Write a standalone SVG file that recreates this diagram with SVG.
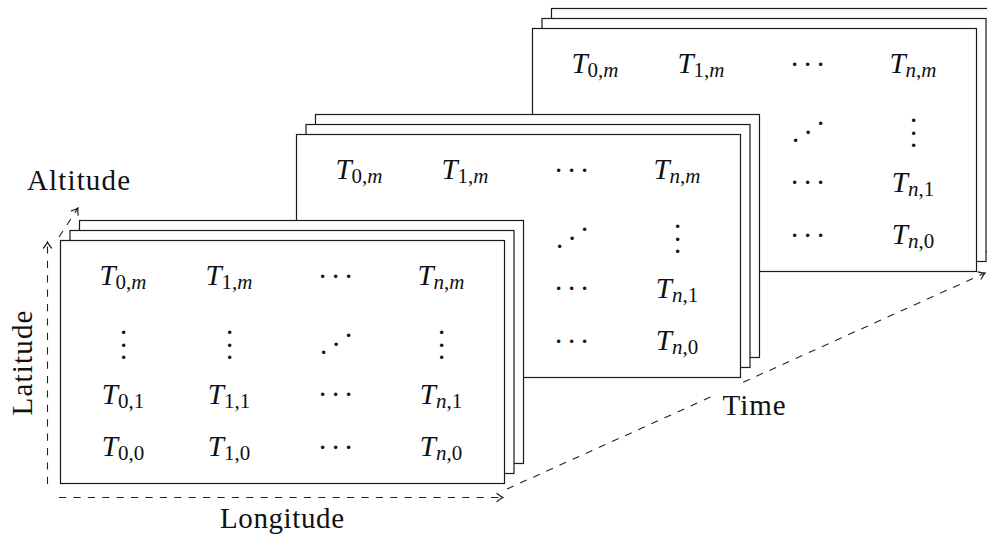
<svg xmlns="http://www.w3.org/2000/svg" width="987" height="537" viewBox="0 0 987 537">
  <style>
    text { font-family: 'Liberation Serif', serif; }
    .frame { fill: #ffffff; stroke: #1a1a1a; stroke-width: 1.2; }
    .m { font-size: 29px; fill: #111; text-anchor: middle; }
    .i { font-style: italic; }
    .s { font-size: 21px; }
    .d { font-size: 29px; fill: #111; text-anchor: middle; }
    .axis { fill: none; stroke: #222; stroke-width: 1.1; stroke-dasharray: 7.2 7.2; }
    .lbl { font-size: 29px; fill: #111; text-anchor: middle; }
  </style>
  <defs>
    <marker id="tip" markerUnits="userSpaceOnUse" markerWidth="12" markerHeight="12" viewBox="-7 -6 8 12" refX="0" refY="0" orient="auto">
      <path d="M -6 -4 Q -2.5 -1 0 0 Q -2.5 1 -6 4" fill="none" stroke="#222" stroke-width="1.2" stroke-linecap="round"/>
    </marker>
    <!-- three stacked sheets of one time step -->
    <g id="sheets">
      <rect class="frame" x="19" y="-20" width="444" height="243"/>
      <rect class="frame" x="9.5" y="-10" width="444" height="243"/>
      <rect class="frame" x="0" y="0" width="444" height="243"/>
    </g>
  </defs>

  <!-- last time step -->
  <g id="step-last" transform="translate(532.5,28.5)">
    <use href="#sheets"/>
    <text class="m" x="62.5" y="44"><tspan class="i">T</tspan><tspan class="s" dy="4">0,</tspan><tspan class="s i">m</tspan></text>
    <text class="m" x="168.5" y="44"><tspan class="i">T</tspan><tspan class="s" dy="4">1,</tspan><tspan class="s i">m</tspan></text>
    <text class="d" x="262 275 288" y="37.5">...</text>
    <text class="m" x="380.5" y="44"><tspan class="i">T</tspan><tspan class="s i" dy="4">n</tspan><tspan class="s">,</tspan><tspan class="s i">m</tspan></text>
    <text class="d" x="263 275.5 288" y="113.5 105 96.5">...</text>
    <text class="d" x="381 381 381" y="93.5 106 118.5">...</text>
    <text class="d" x="262 275 288" y="155.5">...</text>
    <text class="m" x="380.5" y="163"><tspan class="i">T</tspan><tspan class="s i" dy="4">n</tspan><tspan class="s">,1</tspan></text>
    <text class="d" x="262 275 288" y="208.5">...</text>
    <text class="m" x="380.5" y="215"><tspan class="i">T</tspan><tspan class="s i" dy="4">n</tspan><tspan class="s">,0</tspan></text>
  </g>

  <!-- middle time step -->
  <g id="step-mid" transform="translate(296.5,134.5)">
    <use href="#sheets"/>
    <text class="m" x="62.5" y="44"><tspan class="i">T</tspan><tspan class="s" dy="4">0,</tspan><tspan class="s i">m</tspan></text>
    <text class="m" x="168.5" y="44"><tspan class="i">T</tspan><tspan class="s" dy="4">1,</tspan><tspan class="s i">m</tspan></text>
    <text class="d" x="262 275 288" y="37.5">...</text>
    <text class="m" x="380.5" y="44"><tspan class="i">T</tspan><tspan class="s i" dy="4">n</tspan><tspan class="s">,</tspan><tspan class="s i">m</tspan></text>
    <text class="d" x="263 275.5 288" y="113.5 105 96.5">...</text>
    <text class="d" x="381 381 381" y="93.5 106 118.5">...</text>
    <text class="d" x="262 275 288" y="155.5">...</text>
    <text class="m" x="380.5" y="163"><tspan class="i">T</tspan><tspan class="s i" dy="4">n</tspan><tspan class="s">,1</tspan></text>
    <text class="d" x="262 275 288" y="208.5">...</text>
    <text class="m" x="380.5" y="215"><tspan class="i">T</tspan><tspan class="s i" dy="4">n</tspan><tspan class="s">,0</tspan></text>
  </g>

  <!-- first time step -->
  <g id="step-first" transform="translate(60.5,240.5)">
    <use href="#sheets"/>
    <text class="m" x="62.5" y="44"><tspan class="i">T</tspan><tspan class="s" dy="4">0,</tspan><tspan class="s i">m</tspan></text>
    <text class="m" x="168.5" y="44"><tspan class="i">T</tspan><tspan class="s" dy="4">1,</tspan><tspan class="s i">m</tspan></text>
    <text class="d" x="262 275 288" y="37.5">...</text>
    <text class="m" x="380.5" y="44"><tspan class="i">T</tspan><tspan class="s i" dy="4">n</tspan><tspan class="s">,</tspan><tspan class="s i">m</tspan></text>
    <text class="d" x="63 63 63" y="93.5 106 118.5">...</text>
    <text class="d" x="169 169 169" y="93.5 106 118.5">...</text>
    <text class="d" x="263 275.5 288" y="113.5 105 96.5">...</text>
    <text class="d" x="381 381 381" y="93.5 106 118.5">...</text>
    <text class="m" x="62.5" y="163"><tspan class="i">T</tspan><tspan class="s" dy="4">0,1</tspan></text>
    <text class="m" x="168.5" y="163"><tspan class="i">T</tspan><tspan class="s" dy="4">1,1</tspan></text>
    <text class="d" x="262 275 288" y="155.5">...</text>
    <text class="m" x="380.5" y="163"><tspan class="i">T</tspan><tspan class="s i" dy="4">n</tspan><tspan class="s">,1</tspan></text>
    <text class="m" x="62.5" y="215"><tspan class="i">T</tspan><tspan class="s" dy="4">0,0</tspan></text>
    <text class="m" x="168.5" y="215"><tspan class="i">T</tspan><tspan class="s" dy="4">1,0</tspan></text>
    <text class="d" x="262 275 288" y="208.5">...</text>
    <text class="m" x="380.5" y="215"><tspan class="i">T</tspan><tspan class="s i" dy="4">n</tspan><tspan class="s">,0</tspan></text>
  </g>

  <!-- axes -->
  <g id="connectors">
    <line class="axis" x1="47.5" y1="484" x2="47.5" y2="242" marker-end="url(#tip)"/>
    <line class="axis" x1="59" y1="497.5" x2="503" y2="497.5" marker-end="url(#tip)"/>
    <line class="axis" x1="59" y1="237" x2="78" y2="208" marker-end="url(#tip)"/>
    <line class="axis" x1="507" y1="489" x2="985" y2="273" marker-end="url(#tip)"/>
  </g>

  <!-- axis labels -->
  <g id="labels">
    <text class="lbl" x="78.5" y="190" textLength="103">Altitude</text>
    <text class="lbl" transform="translate(32,363) rotate(-90)" textLength="105">Latitude</text>
    <text class="lbl" x="282" y="528" textLength="124">Longitude</text>
    <rect x="714" y="384" width="80" height="40" fill="#ffffff"/>
    <text class="lbl" x="754" y="415" textLength="63">Time</text>
  </g>
</svg>
